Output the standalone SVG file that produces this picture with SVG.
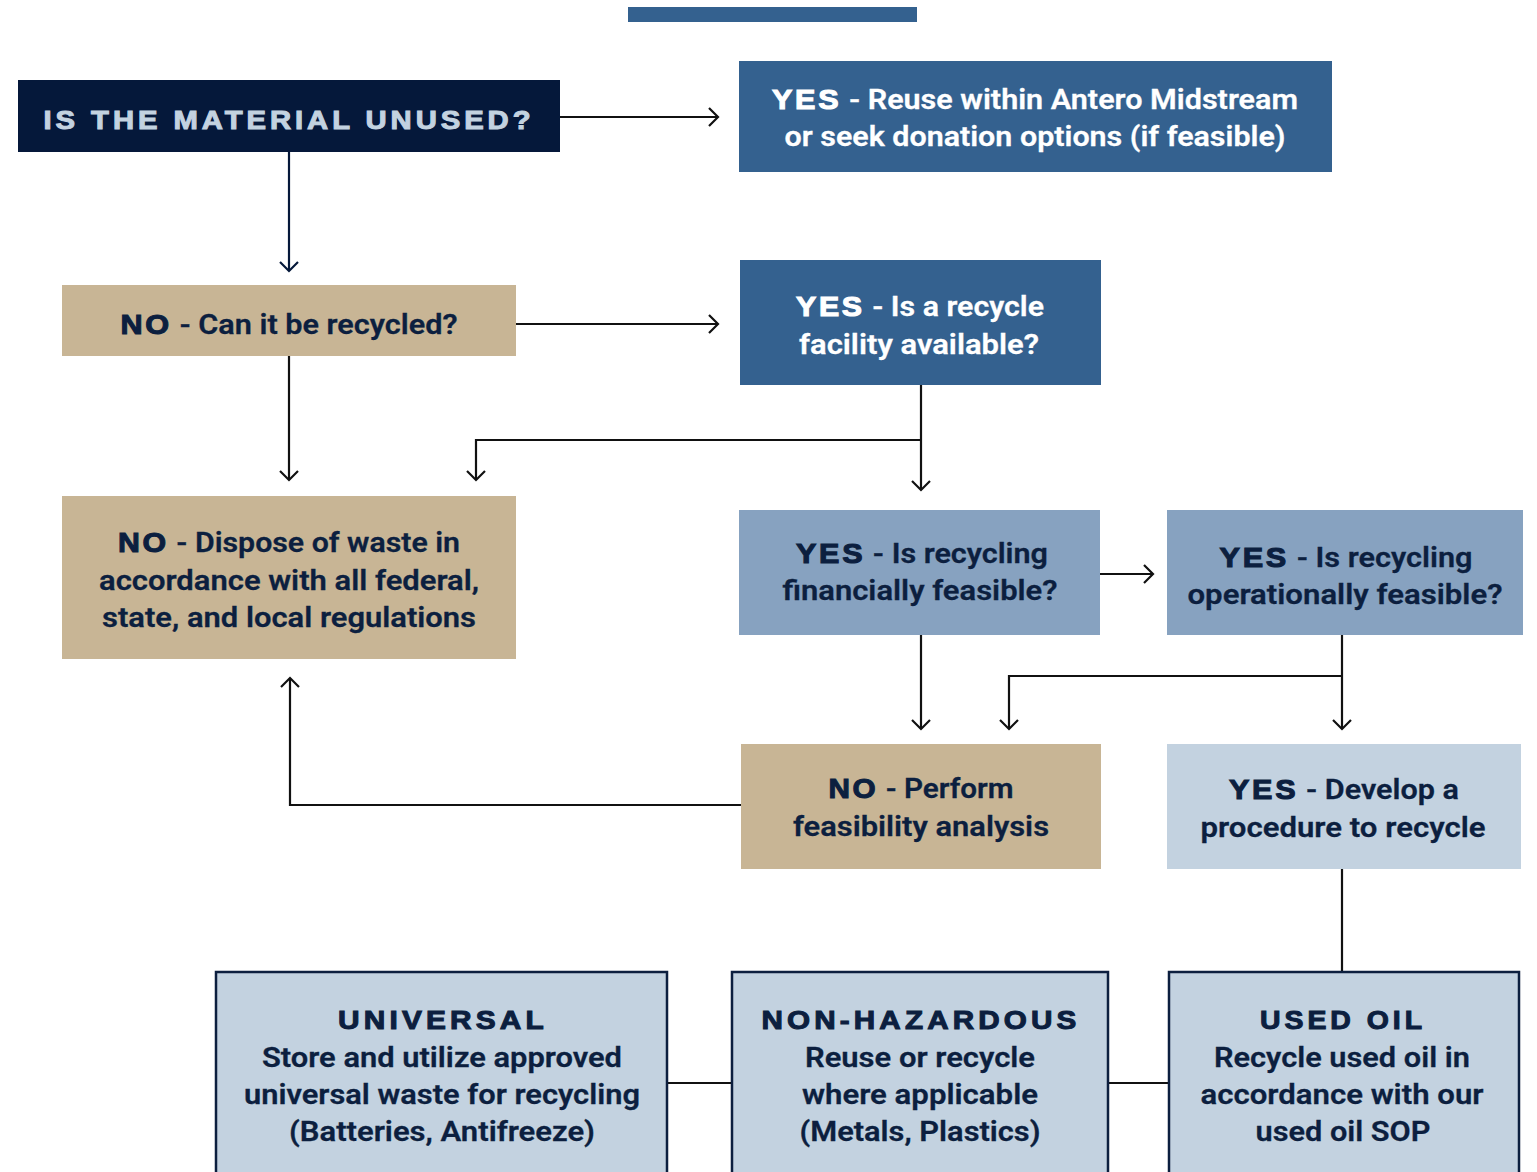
<svg xmlns="http://www.w3.org/2000/svg" width="1537" height="1172" viewBox="0 0 1537 1172">
<style>
.t{font-family:Roboto,"Liberation Sans",sans-serif;font-weight:600;font-size:28px;text-anchor:middle}
.w{fill:#ffffff;stroke:#ffffff}
.n{fill:#0c1f3f;stroke:#0c1f3f}
.t{stroke-width:0.3px}
.k{font-family:"Liberation Sans",Arial,sans-serif;font-weight:900;letter-spacing:2.5px;stroke-width:1.1px}
.h{font-family:"Liberation Sans",Arial,sans-serif;font-weight:900;font-size:26px;letter-spacing:3.5px;text-anchor:middle;fill:#0c1f3f;stroke:#0c1f3f;stroke-width:1px}
.c{fill:none;stroke:#111111;stroke-width:2.2}
.bb{fill:#c3d2e0;stroke:#0c1f3f;stroke-width:2.5}
</style>
<defs>
<marker id="a" markerUnits="userSpaceOnUse" markerWidth="24" markerHeight="24" viewBox="-12 -12 24 24" refX="0" refY="0" orient="auto">
<path d="M-9,-9 L0,0 L-9,9" fill="none" stroke="#111111" stroke-width="2.2"/>
</marker>
<marker id="an" markerUnits="userSpaceOnUse" markerWidth="24" markerHeight="24" viewBox="-12 -12 24 24" refX="0" refY="0" orient="auto">
<path d="M-9,-9 L0,0 L-9,9" fill="none" stroke="#05183a" stroke-width="2.2"/>
</marker>
</defs>
<rect x="628" y="7" width="289" height="15" fill="#34618f"/>

<g id="connectors">
<path class="c" d="M560,117 H718" marker-end="url(#a)"/>
<path d="M289,152 V271" fill="none" stroke="#05183a" stroke-width="2.2" marker-end="url(#an)"/>
<path class="c" d="M516,324 H718" marker-end="url(#a)"/>
<path class="c" d="M289,356 V480" marker-end="url(#a)"/>
<path class="c" d="M921,385 V490" marker-end="url(#a)"/>
<path class="c" d="M921,440 H476 V480" marker-end="url(#a)"/>
<path class="c" d="M1100,574 H1153" marker-end="url(#a)"/>
<path class="c" d="M921,635 V729" marker-end="url(#a)"/>
<path class="c" d="M1342,635 V729" marker-end="url(#a)"/>
<path class="c" d="M1342,676 H1009 V729" marker-end="url(#a)"/>
<path class="c" d="M741,805 H290 V678" marker-end="url(#a)"/>
<path class="c" d="M1342,869 V972"/>
<path class="c" d="M668,1083 H731"/>
<path class="c" d="M1109,1083 H1168"/>
</g>

<g id="n1">
<rect x="18" y="80" width="542" height="72" fill="#05183a"/>
<text class="h" x="289" y="129" style="fill:#c3d2e0;stroke:#c3d2e0" textLength="491" lengthAdjust="spacingAndGlyphs">IS THE MATERIAL UNUSED?</text>
</g>

<g id="n2">
<rect x="739" y="61" width="593" height="111" fill="#34618f"/>
<text class="t w" x="1035" y="109" textLength="526" lengthAdjust="spacingAndGlyphs"><tspan class="k">YES</tspan> - Reuse within Antero Midstream</text>
<text class="t w" x="1035" y="146" textLength="501" lengthAdjust="spacingAndGlyphs">or seek donation options (if feasible)</text>
</g>

<g id="n3">
<rect x="62" y="285" width="454" height="71" fill="#c8b595"/>
<text class="t n" x="289" y="334" textLength="337" lengthAdjust="spacingAndGlyphs"><tspan class="k">NO</tspan> - Can it be recycled?</text>
</g>

<g id="n4">
<rect x="740" y="260" width="361" height="125" fill="#34618f"/>
<text class="t w" x="920" y="316" textLength="248" lengthAdjust="spacingAndGlyphs"><tspan class="k">YES</tspan> - Is a recycle</text>
<text class="t w" x="919" y="354" textLength="240" lengthAdjust="spacingAndGlyphs">facility available?</text>
</g>

<g id="n5">
<rect x="62" y="496" width="454" height="163" fill="#c8b595"/>
<text class="t n" x="289" y="552" textLength="342" lengthAdjust="spacingAndGlyphs"><tspan class="k">NO</tspan> - Dispose of waste in</text>
<text class="t n" x="289" y="590" textLength="380" lengthAdjust="spacingAndGlyphs">accordance with all federal,</text>
<text class="t n" x="289" y="627" textLength="374" lengthAdjust="spacingAndGlyphs">state, and local regulations</text>
</g>

<g id="n6">
<rect x="739" y="510" width="361" height="125" fill="#87a2c0"/>
<text class="t n" x="922" y="563" textLength="252" lengthAdjust="spacingAndGlyphs"><tspan class="k">YES</tspan> - Is recycling</text>
<text class="t n" x="920" y="600" textLength="275" lengthAdjust="spacingAndGlyphs">financially feasible?</text>
</g>

<g id="n7">
<rect x="1167" y="510" width="356" height="125" fill="#87a2c0"/>
<text class="t n" x="1346" y="567" textLength="253" lengthAdjust="spacingAndGlyphs"><tspan class="k">YES</tspan> - Is recycling</text>
<text class="t n" x="1345" y="604" textLength="315" lengthAdjust="spacingAndGlyphs">operationally feasible?</text>
</g>

<g id="n8">
<rect x="741" y="744" width="360" height="125" fill="#c8b595"/>
<text class="t n" x="921" y="798" textLength="185" lengthAdjust="spacingAndGlyphs"><tspan class="k">NO</tspan> - Perform</text>
<text class="t n" x="921" y="836" textLength="256" lengthAdjust="spacingAndGlyphs">feasibility analysis</text>
</g>

<g id="n9">
<rect x="1167" y="744" width="354" height="125" fill="#c3d2e0"/>
<text class="t n" x="1344" y="799" textLength="230" lengthAdjust="spacingAndGlyphs"><tspan class="k">YES</tspan> - Develop a</text>
<text class="t n" x="1343" y="837" textLength="285" lengthAdjust="spacingAndGlyphs">procedure to recycle</text>
</g>

<g id="b1">
<rect class="bb" x="216" y="972" width="451" height="215"/>
<text class="h" x="443" y="1029" style="font-size:25px" textLength="210" lengthAdjust="spacingAndGlyphs">UNIVERSAL</text>
<text class="t n" x="442" y="1067" textLength="360" lengthAdjust="spacingAndGlyphs">Store and utilize approved</text>
<text class="t n" x="442" y="1104" textLength="396" lengthAdjust="spacingAndGlyphs">universal waste for recycling</text>
<text class="t n" x="442" y="1141" textLength="306" lengthAdjust="spacingAndGlyphs">(Batteries, Antifreeze)</text>
</g>

<g id="b2">
<rect class="bb" x="732" y="972" width="376" height="215"/>
<text class="h" x="921" y="1029" style="font-size:25px" textLength="319" lengthAdjust="spacingAndGlyphs">NON-HAZARDOUS</text>
<text class="t n" x="920" y="1067" textLength="230" lengthAdjust="spacingAndGlyphs">Reuse or recycle</text>
<text class="t n" x="920" y="1104" textLength="236" lengthAdjust="spacingAndGlyphs">where applicable</text>
<text class="t n" x="920" y="1141" textLength="241" lengthAdjust="spacingAndGlyphs">(Metals, Plastics)</text>
</g>

<g id="b3">
<rect class="bb" x="1169" y="972" width="350" height="215"/>
<text class="h" x="1343" y="1029" style="font-size:25px" textLength="166" lengthAdjust="spacingAndGlyphs">USED OIL</text>
<text class="t n" x="1342" y="1067" textLength="256" lengthAdjust="spacingAndGlyphs">Recycle used oil in</text>
<text class="t n" x="1342" y="1104" textLength="283" lengthAdjust="spacingAndGlyphs">accordance with our</text>
<text class="t n" x="1343" y="1141" textLength="175" lengthAdjust="spacingAndGlyphs">used oil SOP</text>
</g>
</svg>
